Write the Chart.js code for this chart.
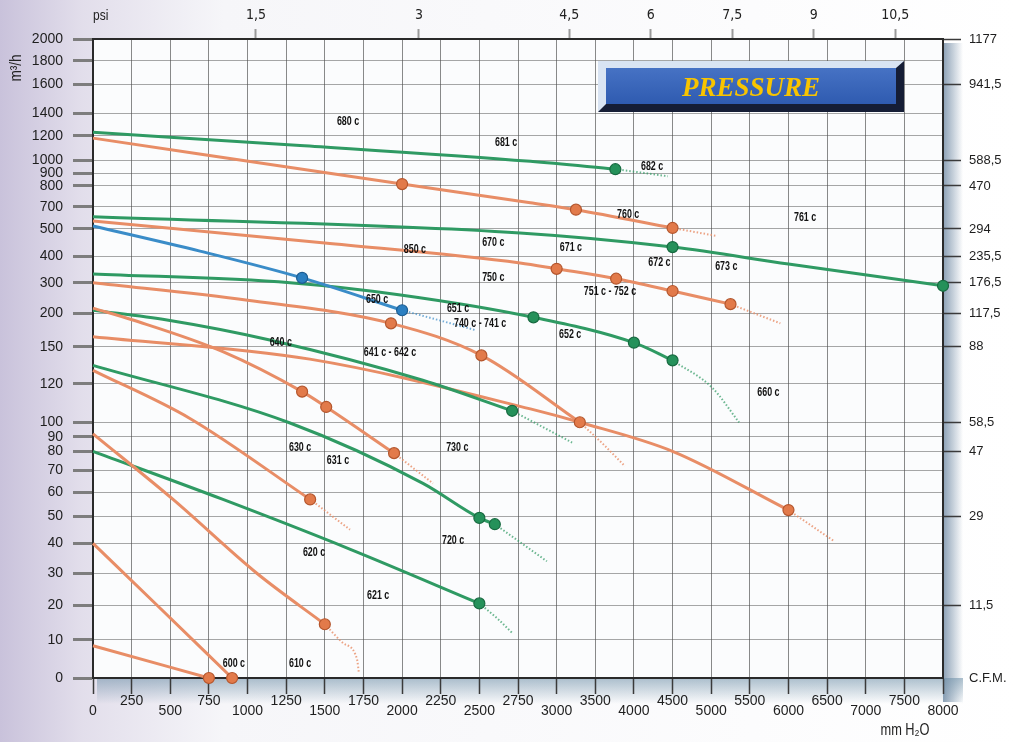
<!DOCTYPE html>
<html>
<head>
<meta charset="utf-8">
<script src="https://cdn.jsdelivr.net/npm/chart.js@4.4.1/dist/chart.umd.min.js"></script>
<style>
  html, body { margin: 0; padding: 0; background: #fff; }
  #wrap { position: relative; width: 1017px; height: 742px; }
</style>
</head>
<body>
<div id="wrap"><canvas id="chart"></canvas></div>
<script>
// axis ticks (the scales are not linear, each tick step gets its own share)
const pressureTicks = [0, 250, 500, 750, 1000, 1250, 1500, 1750, 2000, 2250, 2500, 2750, 3000,
  3500, 4000, 4500, 5000, 5500, 6000, 6500, 7000, 7500, 8000];
const flowTicks = [0, 10, 20, 30, 40, 50, 60, 70, 80, 90, 100, 120, 150, 200, 300, 400, 500,
  700, 800, 900, 1000, 1200, 1400, 1600, 1800, 2000];
const flowTickPos = [0, 0.0595, 0.1142, 0.1639, 0.2108, 0.2535, 0.2906, 0.3255, 0.3548, 0.3776,
  0.4002, 0.4601, 0.5185, 0.5707, 0.6186, 0.6604, 0.7027, 0.7376, 0.77, 0.7898, 0.8106, 0.8487,
  0.8837, 0.9291, 0.9656, 1];
const psiTicks = [1.5, 3, 4.5, 6, 7.5, 9, 10.5];
const psiLabels = ['1,5', '3', '4,5', '6', '7,5', '9', '10,5'];
const mmPerPsi = 703.07;
const cfmFlow = [0, 20, 50, 80, 100, 150, 200, 300, 400, 500, 800, 1000, 1600, 2000];
const cfmLabels = ['C.F.M.', '11,5', '29', '47', '58,5', '88', '117,5', '176,5', '235,5', '294',
  '470', '588,5', '941,5', '1177'];

// curves: pressure (mm H2O), flow (m3/h), points that carry a dot
const g682Mm = [0, 1340, 2830, 3760, 4100, 4440];
const g682Flow = [1230, 1120, 990, 931, 905, 877];
const g682Dots = [3760];

const o760Mm = [0, 2000, 2830, 3250, 4500, 5076];
const o760Flow = [1180, 815, 719, 673, 509, 474];
const o760Dots = [2000, 3250, 4500];

const g761Mm = [0, 2763, 4500, 6000, 8000];
const g761Flow = [609, 485, 433, 370, 290];
const g761Dots = [4500, 8000];

const o751Mm = [0, 1500, 2763, 3000, 3770, 4500, 5250, 5895];
const o751Flow = [572, 448, 374, 352, 315, 273, 230, 185];
const o751Dots = [3000, 3770, 4500, 5250];

const b650Mm = [0, 692, 1353, 2000, 2250, 2472];
const b650Flow = [527, 418, 318, 210, 189, 175];
const b650Dots = [1353, 2000];

const g652Mm = [0, 1275, 1990, 2850, 4000, 4500, 5015, 5360];
const g652Flow = [333, 300, 260, 194, 156, 139, 118, 100];
const g652Dots = [2850, 4000, 4500];

const o740Mm = [0, 1000, 1928, 2513, 3300, 3600, 3885];
const o740Flow = [300, 243, 185, 143, 100, 85, 72];
const o740Dots = [1928, 2513, 3300];

const o640Mm = [0, 258, 840, 1353, 1509, 1948, 2200];
const o640Flow = [217, 190, 146, 116, 108, 79, 64];
const o640Dots = [1353, 1509, 1948];

const g641Mm = [0, 479, 1144, 2134, 2712, 3200];
const g641Flow = [210, 190, 160, 123, 106, 86];
const g641Dots = [2712];

const o660Mm = [0, 1403, 2830, 3300, 4500, 6000, 6580];
const o660Flow = [165, 140, 107, 100, 80, 52.5, 41];
const o660Dots = [6000];

const g720Mm = [0, 1275, 2135, 2500, 2600, 2937];
const g720Flow = [135, 99.5, 64, 49.3, 47, 34];
const g720Dots = [2500, 2600];

const o630Mm = [0, 627, 1405, 1663];
const o630Flow = [131, 102, 57, 45];
const o630Dots = [1405];

const o620Mm = [0, 518, 1060, 1500, 1618, 1708, 1720];
const o620Flow = [92, 57, 30, 14.5, 9.2, 5, 1.5];
const o620Dots = [1500];

const g621Mm = [0, 841, 1665, 2500, 2620, 2713];
const g621Flow = [80, 57, 38, 20.5, 16, 12];
const g621Dots = [2500];

const o610Mm = [0, 413, 900];
const o610Flow = [40, 20, 0];
const o610Dots = [900];

const o600Mm = [0, 750];
const o600Flow = [8.5, 0];
const o600Dots = [750];

// model labels
const labelText = ['680 c', '681 c', '682 c', '760 c', '761 c', '850 c', '670 c', '671 c', '672 c',
  '673 c', '750 c', '751 c - 752 c', '650 c', '651 c', '740 c - 741 c', '652 c', '640 c',
  '641 c - 642 c', '660 c', '630 c', '631 c', '730 c', '720 c', '620 c', '621 c', '600 c', '610 c'];
const labelMm = [1650, 2673, 4235, 3925, 6215, 2083, 2590, 3185, 4330, 5195, 2590, 3690, 1838,
  2362, 2505, 3175, 1215, 1922, 5740, 1340, 1585, 2357, 2330, 1430, 1845, 912, 1340];
const labelFlow = [1322, 1140, 947, 626, 599, 422, 448, 430, 374, 359, 318, 270, 244, 214, 184,
  167.5, 155.5, 145, 115.3, 82.3, 74.8, 82.3, 41.1, 36.8, 22.9, 3.7, 3.7];

const curves = [
  { mm: g682Mm, flow: g682Flow, dots: g682Dots, tone: 'green' },
  { mm: o760Mm, flow: o760Flow, dots: o760Dots, tone: 'orange' },
  { mm: g761Mm, flow: g761Flow, dots: g761Dots, tone: 'green' },
  { mm: o751Mm, flow: o751Flow, dots: o751Dots, tone: 'orange' },
  { mm: b650Mm, flow: b650Flow, dots: b650Dots, tone: 'blue' },
  { mm: g652Mm, flow: g652Flow, dots: g652Dots, tone: 'green' },
  { mm: o740Mm, flow: o740Flow, dots: o740Dots, tone: 'orange' },
  { mm: o640Mm, flow: o640Flow, dots: o640Dots, tone: 'orange' },
  { mm: g641Mm, flow: g641Flow, dots: g641Dots, tone: 'green' },
  { mm: o660Mm, flow: o660Flow, dots: o660Dots, tone: 'orange' },
  { mm: g720Mm, flow: g720Flow, dots: g720Dots, tone: 'green' },
  { mm: o630Mm, flow: o630Flow, dots: o630Dots, tone: 'orange' },
  { mm: o620Mm, flow: o620Flow, dots: o620Dots, tone: 'orange' },
  { mm: g621Mm, flow: g621Flow, dots: g621Dots, tone: 'green' },
  { mm: o610Mm, flow: o610Flow, dots: o610Dots, tone: 'orange' },
  { mm: o600Mm, flow: o600Flow, dots: o600Dots, tone: 'orange' },
];

const tones = {
  orange: { line: '#e88d66', tail: 'rgba(232,141,102,0.8)', dot: '#e27a4a', edge: '#b4562d' },
  green: { line: '#2f9a63', tail: 'rgba(47,154,99,0.7)', dot: '#25915a', edge: '#176a40' },
  blue: { line: '#3a8cc8', tail: 'rgba(58,140,200,0.7)', dot: '#2b7fc1', edge: '#1c5d92' },
};

// piecewise scale: value -> share of the axis, interpolated between tick stops
function interp(v, from, to) {
  const n = from.length - 1;
  let k = 1;
  while (k < n && v > from[k]) k++;
  const t = (v - from[k - 1]) / (from[k] - from[k - 1]);
  return to[k - 1] + t * (to[k] - to[k - 1]);
}
const pressurePos = pressureTicks.map((_, k) => k / (pressureTicks.length - 1));
const axisStops = {
  x: [pressureTicks, pressurePos],
  psi: [pressureTicks, pressurePos],
  y: [flowTicks, flowTickPos],
  cfm: [flowTicks, flowTickPos],
};

class PiecewiseScale extends Chart.LinearScale {
  getPixelForValue(value) {
    const s = axisStops[this.id];
    return this.getPixelForDecimal(interp(value, s[0], s[1]));
  }
  getValueForPixel(pixel) {
    const s = axisStops[this.id];
    return interp(this.getDecimalForPixel(pixel), s[1], s[0]);
  }
}
PiecewiseScale.id = 'piecewise';
Chart.register(PiecewiseScale);

const datasets = [];
curves.forEach((c) => {
  const pts = c.mm.map((m, k) => ({ x: m, y: c.flow[k] }));
  const last = c.mm.indexOf(c.dots[c.dots.length - 1]);
  const solid = pts.slice(0, last + 1);
  const tail = pts.slice(last);
  const t = tones[c.tone];
  datasets.push({
    data: solid, borderColor: t.line, borderWidth: 3, cubicInterpolationMode: 'monotone',
    pointRadius: solid.map((p) => (c.dots.includes(p.x) ? 5.5 : 0)),
    pointBackgroundColor: t.dot, pointBorderColor: t.edge, pointBorderWidth: 1.2,
    clip: false, order: 0,
  });
  if (tail.length > 1) {
    datasets.push({
      data: tail, borderColor: t.tail, borderWidth: 2, borderDash: [1.5, 2],
      cubicInterpolationMode: 'monotone', pointRadius: 0, clip: false, order: 1,
    });
  }
});

const sans = "'Liberation Sans', Arial, sans-serif";
const narrow = "'Liberation Sans Narrow', 'DejaVu Sans Condensed', sans-serif";

function narrowText(ctx, text, x, y, font, sx) {
  ctx.save();
  ctx.font = font;
  ctx.translate(x, y);
  ctx.scale(sx, 1);
  ctx.fillText(text, 0, 0);
  ctx.restore();
}

const decor = {
  id: 'decor',
  beforeDraw(chart) {
    const { ctx, chartArea: a, width, height } = chart;
    ctx.save();
    const bg = ctx.createLinearGradient(0, 0, width, 0);
    bg.addColorStop(0, '#c9c2db');
    bg.addColorStop(0.08, '#e2deeb');
    bg.addColorStop(0.22, '#f6f6f9');
    bg.addColorStop(1, '#ffffff');
    ctx.fillStyle = bg;
    ctx.fillRect(0, 0, width, height);
    let g = ctx.createLinearGradient(a.right, 0, a.right + 20, 0);
    g.addColorStop(0, 'rgba(90,120,150,0.7)');
    g.addColorStop(1, 'rgba(90,120,150,0)');
    ctx.fillStyle = g;
    ctx.fillRect(a.right, a.top + 4, 20, a.bottom - a.top + 20);
    g = ctx.createLinearGradient(0, a.bottom, 0, a.bottom + 26);
    g.addColorStop(0, 'rgba(105,140,165,0.55)');
    g.addColorStop(1, 'rgba(105,140,165,0)');
    ctx.fillStyle = g;
    ctx.fillRect(a.left + 4, a.bottom, a.right - a.left + 16, 26);
    ctx.fillStyle = '#fbfcfd';
    ctx.fillRect(a.left, a.top, a.right - a.left, a.bottom - a.top);
    ctx.restore();
  },
  afterDatasetsDraw(chart) {
    const { ctx, scales } = chart;
    ctx.save();
    ctx.fillStyle = '#111';
    ctx.textAlign = 'center';
    ctx.textBaseline = 'middle';
    labelText.forEach((t, k) => {
      const px = scales.x.getPixelForValue(labelMm[k]);
      const py = scales.y.getPixelForValue(labelFlow[k]);
      narrowText(ctx, t, px, py, 'bold 12px ' + sans, 0.74);
    });
    ctx.restore();
  },
  afterDraw(chart) {
    const { ctx } = chart;
    ctx.save();
    // PRESSURE badge
    const bx = 598, by = 61, bw = 306, bh = 51;
    ctx.fillStyle = '#151d35';
    ctx.fillRect(bx, by, bw, bh);
    ctx.fillStyle = '#d9e4f3';
    ctx.beginPath();
    ctx.moveTo(bx, by);
    ctx.lineTo(bx + bw, by);
    ctx.lineTo(bx + bw - 8, by + 7);
    ctx.lineTo(bx + 8, by + 7);
    ctx.lineTo(bx + 8, by + bh - 8);
    ctx.lineTo(bx, by + bh);
    ctx.closePath();
    ctx.fill();
    const face = ctx.createLinearGradient(0, by + 7, 0, by + bh - 8);
    face.addColorStop(0, '#4672c4');
    face.addColorStop(1, '#2f5bb0');
    ctx.fillStyle = face;
    ctx.fillRect(bx + 8, by + 7, bw - 16, bh - 15);
    ctx.fillStyle = '#f8c400';
    ctx.textAlign = 'center';
    ctx.textBaseline = 'middle';
    ctx.font = "italic bold 27px 'Liberation Serif', 'DejaVu Serif', serif";
    ctx.fillText('PRESSURE', bx + bw / 2, by + 28);

    // axis captions
    ctx.fillStyle = '#222';
    ctx.textAlign = 'left';
    ctx.textBaseline = 'middle';
    narrowText(ctx, 'psi', 93, 16, '15px ' + sans, 0.8);
    ctx.textAlign = 'center';
    narrowText(ctx, 'mm H\u2082O', 905, 731, '16px ' + sans, 0.8);
    ctx.save();
    ctx.translate(17, 68);
    ctx.rotate(-Math.PI / 2);
    narrowText(ctx, 'm\u00b3/h', 0, 0, '16px ' + sans, 0.85);
    ctx.restore();
    ctx.restore();
  },
};

new Chart(document.getElementById('chart'), {
  type: 'line',
  data: { datasets },
  plugins: [decor],
  options: {
    responsive: true,
    maintainAspectRatio: false,
    animation: false,
    layout: { padding: 0 },
    plugins: { legend: { display: false }, tooltip: { enabled: false } },
    scales: {
      x: {
        type: 'piecewise', position: 'bottom', min: 0, max: 8000,
        afterBuildTicks: (s) => { s.ticks = pressureTicks.map((v) => ({ value: v })); },
        afterFit: (s) => { s.height = 64; },
        ticks: {
          autoSkip: false, maxRotation: 0, minRotation: 0, padding: 2, color: '#1e1e1e',
          font: { family: sans, size: 14, lineHeight: 0.72 },
          callback: (v, i) => (i % 2 ? [String(v), ''] : ['', String(v)]),
        },
        grid: { color: 'rgba(60,60,60,0.6)', lineWidth: 1, tickLength: 16, tickColor: '#3a3a3a', tickWidth: 1.5 },
        border: { color: '#2a2a2a', width: 2 },
      },
      psi: {
        type: 'piecewise', position: 'top', min: 0, max: 8000,
        afterBuildTicks: (s) => { s.ticks = psiTicks.map((p) => ({ value: p * mmPerPsi })); },
        afterFit: (s) => { s.height = 39; },
        ticks: {
          autoSkip: false, maxRotation: 0, minRotation: 0, padding: 5, color: '#222',
          font: { family: narrow, size: 14 },
          callback: (v, i) => psiLabels[i],
        },
        grid: { drawOnChartArea: false, tickLength: 10, tickColor: '#9a9a9a', tickWidth: 2 },
        border: { color: '#2a2a2a', width: 2 },
      },
      y: {
        type: 'piecewise', position: 'left', min: 0, max: 2000,
        afterBuildTicks: (s) => { s.ticks = flowTicks.map((v) => ({ value: v })); },
        afterFit: (s) => { s.width = 93; },
        ticks: {
          autoSkip: false, padding: 10, color: '#1e1e1e',
          font: { family: sans, size: 14, lineHeight: 1 },
          callback: (v) => String(v),
        },
        grid: { color: 'rgba(80,80,80,0.5)', lineWidth: 1, tickLength: 20, tickColor: '#7d7d7d', tickWidth: 3 },
        border: { color: '#2a2a2a', width: 2 },
      },
      cfm: {
        type: 'piecewise', position: 'right', min: 0, max: 2000,
        afterBuildTicks: (s) => { s.ticks = cfmFlow.map((v) => ({ value: v })); },
        afterFit: (s) => { s.width = 74; },
        ticks: {
          autoSkip: false, padding: 8, color: '#1e1e1e',
          font: { family: sans, size: 13, lineHeight: 1 },
          callback: (v, i) => cfmLabels[i],
        },
        grid: {
          drawOnChartArea: false, tickLength: 18, tickWidth: 1.5,
          tickColor: (c) => (c.index === 0 ? 'rgba(0,0,0,0)' : '#3a3a3a'),
        },
        border: { color: '#2a2a2a', width: 2 },
      },
    },
  },
});
</script>
</body>
</html>
